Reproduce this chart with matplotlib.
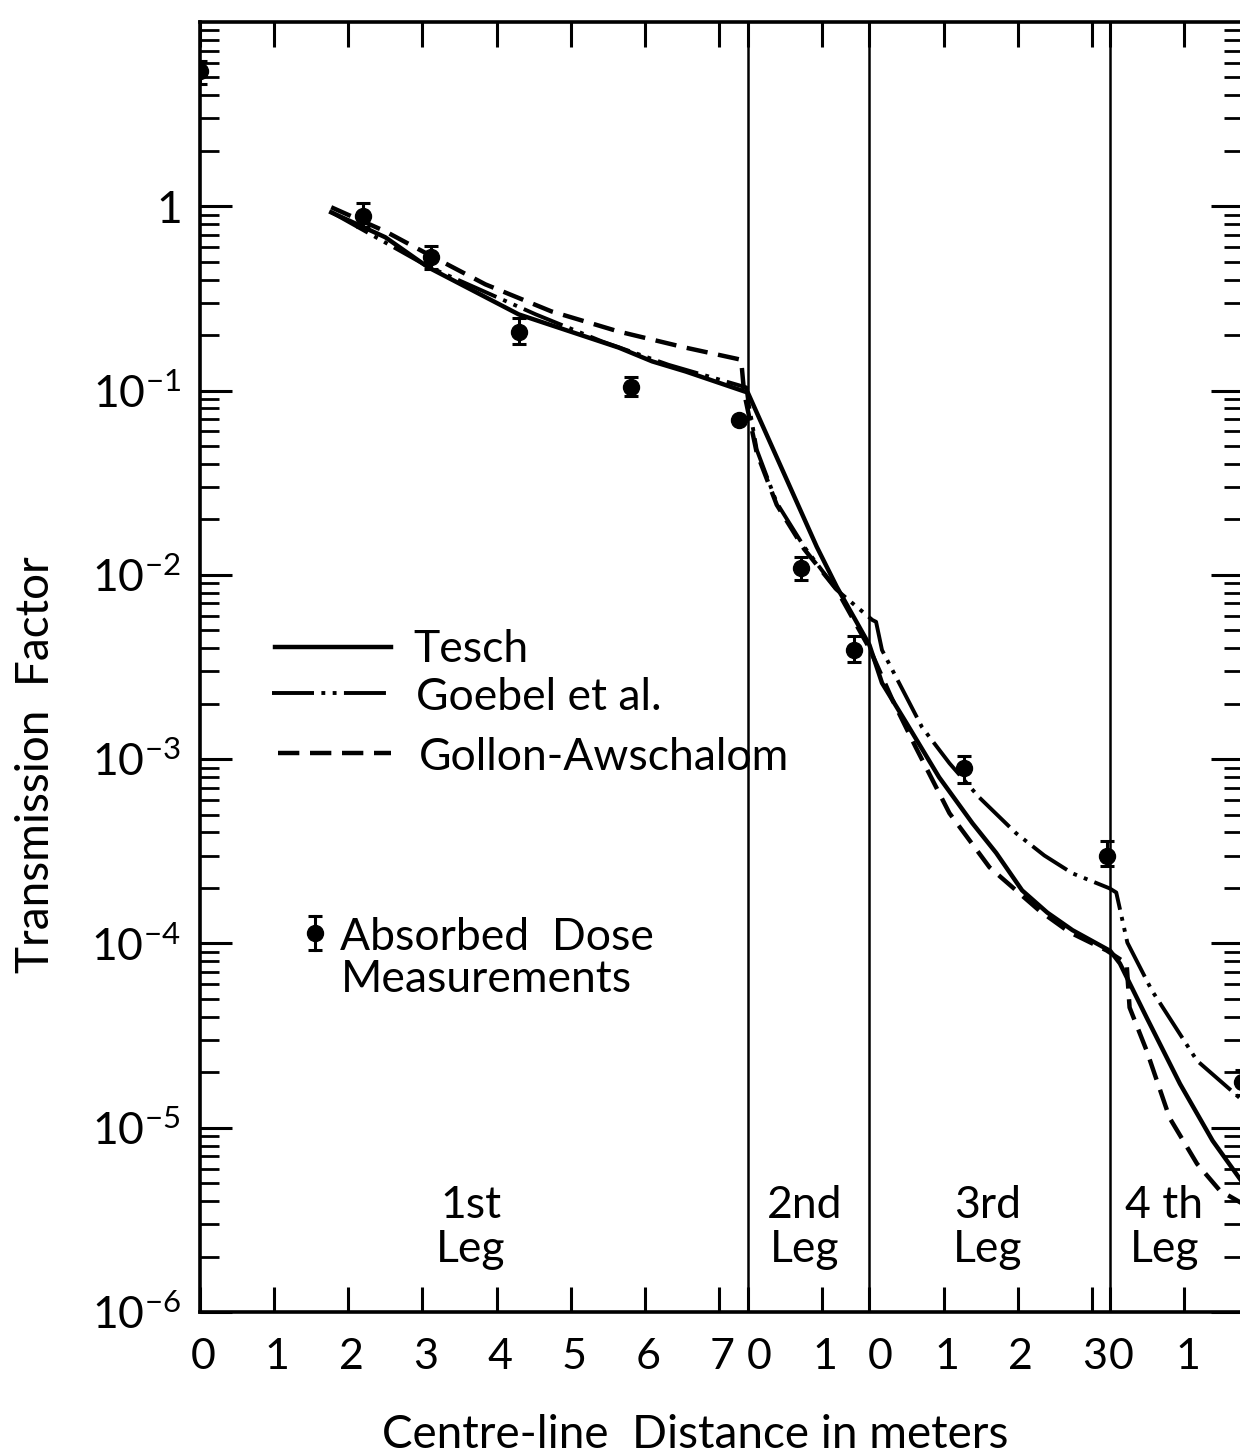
import matplotlib.pyplot as plt
import matplotlib.ticker as ticker
import matplotlib.transforms as mtransforms

plt.rcParams["font.family"] = ["Lato", "DejaVu Sans"]
plt.rcParams["font.weight"] = "normal"
plt.rcParams["mathtext.default"] = "regular"

# centre-line distance, legs laid end to end (m)
leg_start = [0.0, 7.39, 9.03, 12.28]
leg_ticks = [[0, 1, 2, 3, 4, 5, 6, 7], [0, 1], [0, 1, 2, 3], [0, 1]]
leg_names = [("1st", "Leg"), ("2nd", "Leg"), ("3rd", "Leg"), ("4 th", "Leg")]
leg_label_x = [3.65, 8.15, 10.62, 13.01]

# Tesch
tesch_x = [1.77, 2.50, 3.08, 4.30, 5.65, 6.10, 6.55, 7.39, 8.32, 8.59, 9.03,
           9.20, 9.53, 9.97, 10.42, 10.74, 11.09, 11.43, 11.77, 12.28, 12.41, 12.77, 13.22, 13.66, 14.07]
tesch_y = [0.927, 0.679, 0.466, 0.259, 0.171, 0.144, 0.127, 0.0975, 0.0142, 0.00861, 0.00417,
           0.00259, 0.00157, 7.98e-4, 4.49e-4, 3.10e-4, 1.94e-4, 1.47e-4, 1.18e-4, 9.1e-5, 7.78e-5,
           3.96e-5, 1.73e-5, 8.5e-6, 5.0e-6]

# Goebel et al.
goebel_x = [1.77, 3.08, 4.53, 5.42, 6.32, 7.23, 7.37, 7.39, 7.51, 7.78, 8.15, 8.59, 9.07,
            9.12, 9.20, 9.53, 9.74, 10.11, 10.51, 11.01, 11.39, 11.77, 12.27,
            12.36, 12.51, 12.84, 13.45, 14.07]
goebel_y = [0.93, 0.47, 0.259, 0.185, 0.138, 0.108, 0.104, 0.09, 0.0478, 0.0246, 0.0142, 0.00828, 0.00569,
            0.00556, 0.00391, 0.00217, 0.00149, 9.5e-4, 6.21e-4, 3.96e-4, 3.0e-4, 2.40e-4, 1.99e-4,
            1.89e-4, 1.01e-4, 5.56e-5, 2.31e-5, 1.40e-5]

# Gollon-Awschalom
gollon_x = [1.77, 2.50, 3.08, 3.85, 4.74, 5.65, 6.55, 7.30, 7.34, 7.51, 7.78, 8.15, 8.59, 9.03,
            9.34, 9.66, 10.11, 10.65, 11.32, 11.73, 12.23, 12.50,
            12.54, 12.77, 13.08, 13.45, 13.76, 14.07]
gollon_y = [0.988, 0.731, 0.548, 0.377, 0.269, 0.209, 0.171, 0.147, 0.0975, 0.046, 0.0240, 0.0138, 0.0083, 0.0040,
            0.00210, 0.00115, 5.09e-4, 2.59e-4, 1.51e-4, 1.15e-4, 9.16e-5, 7.78e-5,
            4.49e-5, 2.62e-5, 1.13e-5, 6.37e-6, 4.55e-6, 3.86e-6]

# absorbed dose measurements
meas_x = [0.0, 2.20, 3.11, 4.30, 5.81, 7.27, 8.11, 8.82, 10.31, 12.24, 14.05]
meas_y = [5.4, 0.89, 0.53, 0.209, 0.105, 0.069, 0.0109, 0.0039, 8.9e-4, 3.0e-4, 1.76e-5]
meas_lo = [4.6, 0.77, 0.455, 0.178, 0.093, 0.069, 0.0094, 0.00337, 7.4e-4, 2.62e-4, 1.5e-5]
meas_hi = [6.14, 1.04, 0.61, 0.249, 0.119, 0.069, 0.01253, 0.00466, 1.04e-3, 3.58e-4, 2.05e-5]

decades = [1e-6, 1e-5, 1e-4, 1e-3, 1e-2, 1e-1, 1]
decade_labels = [r"$10^{-6}$", r"$10^{-5}$", r"$10^{-4}$", r"$10^{-3}$",
                 r"$10^{-2}$", r"$10^{-1}$", r"$1\ \ $"]

FS = 32
DASHDOT = (0, (10.8, 1.9, 1.0, 1.9, 1.0, 1.9))
DASHED = (0, (4.8, 2.4))

fig = plt.figure(figsize=(12.4, 14.55), dpi=100)
ax = fig.add_axes([200 / 1240, 143 / 1455, 1043 / 1240, 1290 / 1455])

ax.plot(tesch_x, tesch_y, color="k", lw=3.2, label="Tesch")
ax.plot(goebel_x, goebel_y, color="k", lw=2.8, linestyle=DASHDOT, label="Goebel et al.")
ax.plot(gollon_x, gollon_y, color="k", lw=3.2, linestyle=DASHED, label="Gollon-Awschalom")

yerr = [[y - lo for y, lo in zip(meas_y, meas_lo)], [hi - y for y, hi in zip(meas_y, meas_hi)]]
ax.errorbar(meas_x, meas_y, yerr=yerr, fmt="o", color="k", ms=11.5, capsize=5,
            capthick=2.2, elinewidth=2.2, zorder=5)

for xb in leg_start[1:]:
    ax.axvline(xb, color="k", lw=1.8)

ax.set_yscale("log")
ax.set_ylim(1e-6, 10)
ax.set_xlim(0.0, 14.07)

xt, xl = [], []
for s, ticks in zip(leg_start, leg_ticks):
    for d in ticks:
        xt.append(s + d)
        xl.append(str(d))
ax.set_xticks(xt)
ax.set_xticklabels(xl, fontsize=FS - 1)
ax.set_yticks(decades)
ax.set_yticklabels(decade_labels, fontsize=FS)
ax.yaxis.set_minor_locator(ticker.LogLocator(base=10, subs=range(2, 10), numticks=20))
ax.yaxis.set_minor_formatter(ticker.NullFormatter())

ax.tick_params(axis="both", which="both", direction="in", top=True, right=True)
ax.tick_params(axis="x", which="major", length=18, width=2.2, pad=19)
ax.tick_params(axis="y", which="major", length=23, width=2.2, pad=14)
ax.tick_params(axis="y", which="minor", length=14, width=2.0)
for sp in ax.spines.values():
    sp.set_linewidth(2.6)

# nudge x labels right a little, leg-start zeros a bit more (as drawn)
for pos, lab in zip(xt, ax.get_xticklabels()):
    dx = 11 if pos in leg_start[1:] else 3
    lab.set_transform(lab.get_transform() + mtransforms.ScaledTranslation(dx / 100, 0, fig.dpi_scale_trans))

tr = mtransforms.blended_transform_factory(ax.transData, ax.transAxes)
for lx, (a, b) in zip(leg_label_x, leg_names):
    ax.text(lx, 0.0729, a, transform=tr, ha="center", va="baseline", fontsize=FS)
    ax.text(lx, 0.0388, b, transform=tr, ha="center", va="baseline", fontsize=FS)

# key
ax.plot([0.072, 0.183], [0.5155, 0.5155], transform=ax.transAxes, color="k", lw=3.2)
ax.plot([0.069, 0.183], [0.480, 0.480], transform=ax.transAxes, color="k", lw=2.8, linestyle=DASHDOT)
ax.plot([0.075, 0.183], [0.433, 0.433], transform=ax.transAxes, color="k", lw=3.2, linestyle=DASHED)
ax.text(0.205, 0.5039, "Tesch", transform=ax.transAxes, va="baseline", fontsize=FS)
ax.text(0.207, 0.4667, "Goebel et al.", transform=ax.transAxes, va="baseline", fontsize=FS)
ax.text(0.210, 0.4202, "Gollon-Awschalom", transform=ax.transAxes, va="baseline", fontsize=FS)

ax.plot([0.1106, 0.1106], [0.281, 0.307], transform=ax.transAxes, color="k", lw=2.2,
        marker="_", ms=10, mew=2.2)
ax.plot([0.1106], [0.2938], transform=ax.transAxes, color="k", marker="o", ms=11.5)
ax.text(0.1346, 0.2806, "Absorbed  Dose", transform=ax.transAxes, va="baseline", fontsize=FS)
ax.text(0.1346, 0.2481, "Measurements", transform=ax.transAxes, va="baseline", fontsize=FS)

fig.text(695 / 1240, 7 / 1455, "Centre-line  Distance in meters", ha="center", va="baseline",
         fontsize=FS + 1)
fig.text(36 / 1240, 1 - 765 / 1455, "Transmission  Factor", ha="center", va="center",
         rotation=90, fontsize=FS + 1)

fig.savefig("out.png", dpi=100)
